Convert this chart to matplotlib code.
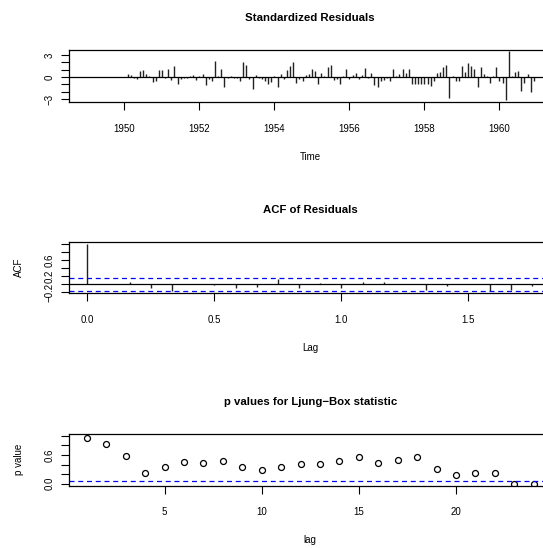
import numpy as np
import matplotlib
matplotlib.use("Agg")
import matplotlib.pyplot as plt

plt.rcParams['font.family'] = ['Liberation Sans', 'DejaVu Sans']

# standardized residuals, monthly from Jan 1949 to Dec 1960
resid = [
    0.03, 0.02, 0.03, -0.02, -0.03, 0.03, 0.03, 0.02, -0.02, -0.03, -0.03, 0.02,
    0.03, 0.45, 0.3, -0.2, -0.25, 0.8, 0.95, 0.35, 0.1, -0.65, -0.6, 0.9,
    0.95, -0.2, 1.1, -0.4, 1.5, -1.0, -0.3, -0.2, -0.2, 0.1, 0.3, -0.4,
    0.1, 0.4, -1.1, -0.3, -0.5, 2.2, 0.15, 1.05, -1.3, -0.2, 0.1, -0.1,
    -0.15, -0.6, 2.0, 1.7, -0.3, -1.6, 0.3, -0.2, -0.3, -0.5, -0.9, -0.7,
    0.1, -1.4, 0.4, -0.3, 0.95, 1.5, 2.0, -0.85, -0.3, -0.5, 0.3, 0.4,
    1.05, 0.8, -0.9, 0.6, 0.1, 1.3, 1.6, -0.4, -0.3, -0.95, 0.1, 1.05,
    -0.3, 0.3, 0.5, -0.3, 0.3, 1.2, -0.2, 0.6, -1.1, -1.3, -0.6, -0.4,
    -0.2, -0.6, 1.1, 0.1, 0.4, 1.1, 0.6, 1.1, -1.0, -1.0, -0.9, -0.9,
    -1.0, -1.0, -1.2, -0.6, 0.5, 0.7, 1.4, 1.6, -2.9, 0.1, -0.6, -0.6,
    1.5, 0.7, 1.85, 1.5, 1.1, -1.3, 1.4, 0.35, 0.1, -0.8, 0.1, 1.3,
    -0.5, -0.8, -3.1, 3.5, 0.1, 0.7, 0.85, -1.85, -0.8, 0.45, -2.1, -0.6,
]
start_year = 1949

# ACF of residuals, lags 0..21 months
acf_vals = [1.0, 0.01, 0.05, -0.10, -0.17, 0.01, -0.01, -0.10, -0.06, 0.13, -0.10,
            0.03, -0.10, 0.07, 0.05, 0.02, -0.14, -0.03, 0.01, -0.17, -0.15, -0.03]
n_obs = 144

# Ljung-Box p values, lags 1..24
lb_lags = list(range(1, 25))
lb_p = [0.95, 0.83, 0.57, 0.23, 0.35, 0.46, 0.43, 0.48, 0.35, 0.29, 0.35, 0.42,
        0.42, 0.48, 0.56, 0.44, 0.50, 0.565, 0.30, 0.19, 0.23, 0.23, 0.005, 0.005]

W, H = 543, 548
fig = plt.figure(figsize=(W / 100, H / 100), dpi=100)

def px_axes(left, top, right, bottom):
    return fig.add_axes([left / W, 1 - bottom / H, (right - left) / W, (bottom - top) / H])

ax1 = px_axes(69, 50, 551.5, 102)
ax2 = px_axes(69, 241.7, 551.5, 293.3)
ax3 = px_axes(69, 433.7, 551.5, 485.7)

tick_fs = 7
title_fs = 8.2

for ax in (ax1, ax2, ax3):
    for s in ax.spines.values():
        s.set_linewidth(0.9)
    ax.tick_params(direction='out', length=5.5, width=0.8, labelsize=tick_fs, pad=10)
    ax.tick_params(axis='y', pad=5)

# panel 1: standardized residuals
t = start_year + np.arange(len(resid)) / 12
ax1.vlines(t, 0, resid, color='#222222', linewidth=1.0)
ax1.axhline(0, color='black', linewidth=0.9)
ax1.set_xlim(1948.52, 1961.39)
ax1.set_ylim(-3.4, 3.68)
ax1.set_xticks(range(1950, 1961, 2))
ax1.set_yticks(range(-3, 4))
ax1.set_yticklabels(['\u22123', '', '', '0', '', '', '3'], rotation=90, va='center')
ax1.set_xlabel('Time', fontsize=tick_fs, labelpad=13)
ax1.set_title('Standardized Residuals', fontsize=title_fs, fontweight='bold', pad=21)

# panel 2: ACF
lags = np.arange(len(acf_vals)) / 12
clim = 1.96 / np.sqrt(n_obs)
ax2.vlines(lags, 0, acf_vals, color='#222222', linewidth=1.0)
ax2.axhline(0, color='black', linewidth=0.9)
for c in (clim, -clim):
    ax2.axhline(c, color='blue', linewidth=0.9, linestyle=(0, (4, 3)))
ax2.set_xlim(-0.072, 1.827)
ax2.set_ylim(-0.225, 1.065)
ax2.set_xticks([0, 0.5, 1.0, 1.5])
ax2.set_xticklabels(['0.0', '0.5', '1.0', '1.5'])
ax2.set_yticks([-0.2, 0, 0.2, 0.4, 0.6, 0.8, 1.0])
ax2.set_yticklabels(['\u22120.2', '', '0.2', '', '0.6', '', ''], rotation=90, va='center')
ax2.set_xlabel('Lag', fontsize=tick_fs, labelpad=13)
ax2.set_ylabel('ACF', fontsize=tick_fs, labelpad=15)
ax2.set_title('ACF of Residuals', fontsize=title_fs, fontweight='bold', pad=21)

# panel 3: Ljung-Box p values
ax3.plot(lb_lags, lb_p, linestyle='none', marker='o', markersize=4.3,
         markerfacecolor='none', markeredgecolor='black', markeredgewidth=0.9)
ax3.axhline(0.05, color='blue', linewidth=0.9, linestyle=(0, (4, 3)))
ax3.set_xlim(0.08, 24.92)
ax3.set_ylim(-0.04, 1.04)
ax3.set_xticks([5, 10, 15, 20])
ax3.set_yticks([0, 0.2, 0.4, 0.6, 0.8, 1.0])
ax3.set_yticklabels(['0.0', '', '', '0.6', '', ''], rotation=90, va='center')
ax3.set_xlabel('lag', fontsize=tick_fs, labelpad=13)
ax3.set_ylabel('p value', fontsize=tick_fs, labelpad=15)
ax3.set_title('p values for Ljung\u2212Box statistic', fontsize=title_fs, fontweight='bold', pad=21)

fig.savefig('out.png', dpi=100)
